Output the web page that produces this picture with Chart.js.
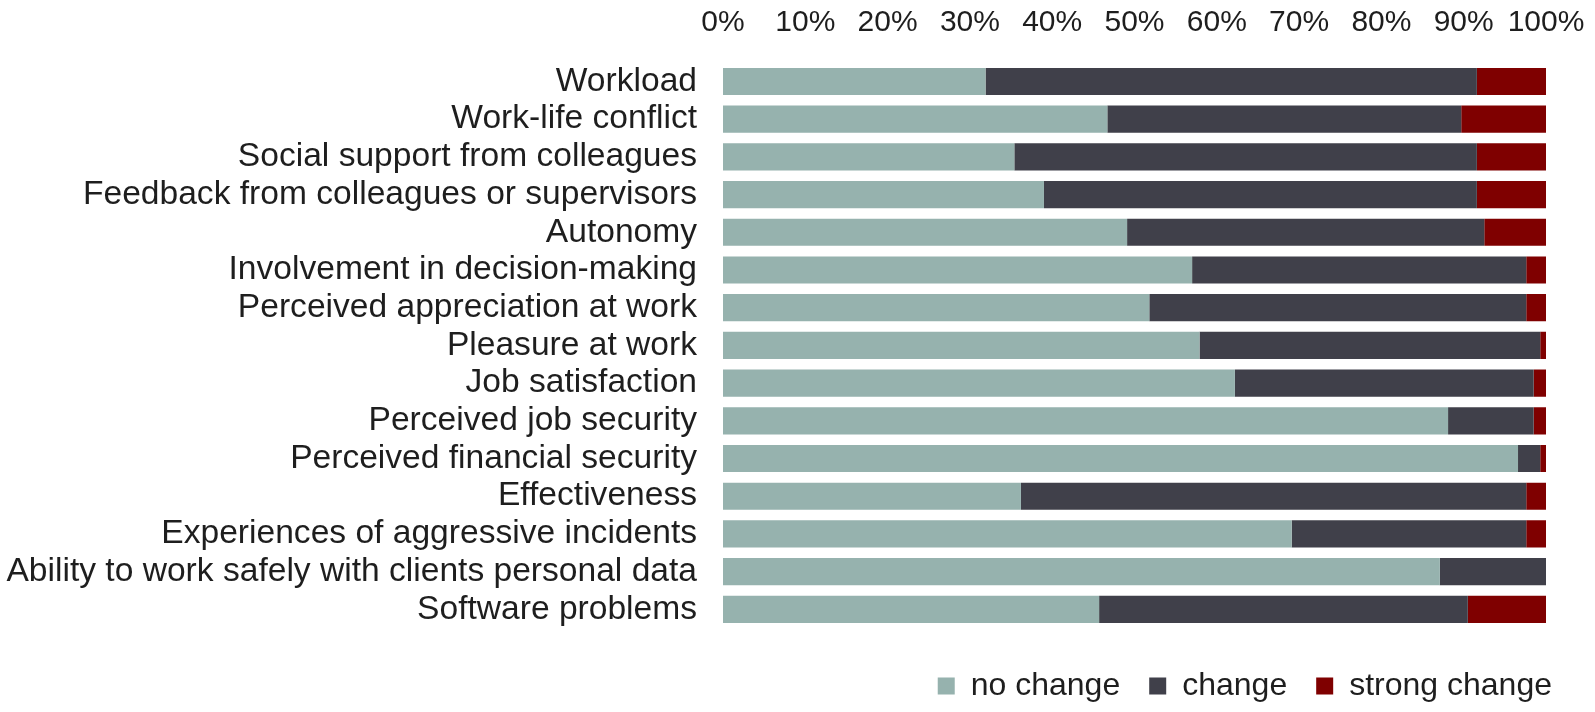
<!DOCTYPE html>
<html>
<head>
<meta charset="utf-8">
<script src="https://cdn.jsdelivr.net/npm/chart.js@4.4.1/dist/chart.umd.min.js"></script>
<style>
  html, body { margin: 0; padding: 0; background: #fff; }
  #wrap { width: 1595px; height: 712px; }
</style>
</head>
<body>
<div id="wrap"><canvas id="chart" width="1595" height="712"></canvas></div>
<script>
const categories = [
  'Workload',
  'Work-life conflict',
  'Social support from colleagues',
  'Feedback from colleagues or supervisors',
  'Autonomy',
  'Involvement in decision-making',
  'Perceived appreciation at work',
  'Pleasure at work',
  'Job satisfaction',
  'Perceived job security',
  'Perceived financial security',
  'Effectiveness',
  'Experiences of aggressive incidents',
  'Ability to work safely with clients personal data',
  'Software problems'
];
// percentages
const noChange = [31.9, 46.7, 35.4, 39.0, 49.1, 57.0, 51.8, 57.9, 62.2, 88.1, 96.6, 36.2, 69.1, 87.1, 45.7];
const change = [59.7, 43.0, 56.2, 52.6, 43.4, 40.6, 45.8, 41.4, 36.3, 10.4, 2.7, 61.4, 28.5, 12.9, 44.8];
const strongChange = [8.4, 10.3, 8.4, 8.4, 7.5, 2.4, 2.4, 0.7, 1.5, 1.5, 0.7, 2.4, 2.4, 0, 9.5];
const xTicks = [0, 10, 20, 30, 40, 50, 60, 70, 80, 90, 100];

const font = 'Liberation Sans, Arial, sans-serif';
const textColor = '#1e1e1e';

const makeSet = (label, data, color) => ({
  label,
  data,
  backgroundColor: color,
  borderWidth: 0,
  barPercentage: 0.72,
  categoryPercentage: 1
});

new Chart(document.getElementById('chart'), {
  type: 'bar',
  data: {
    labels: categories,
    datasets: [
      makeSet('no change', noChange, '#96b2ae'),
      makeSet('change', change, '#40404a'),
      makeSet('strong change', strongChange, '#7f0000')
    ]
  },
  options: {
    indexAxis: 'y',
    responsive: false,
    animation: false,
    layout: { padding: { left: 0, right: 14, top: 0, bottom: 0 } },
    scales: {
      x: {
        position: 'top',
        stacked: true,
        min: 0,
        max: 100,
        afterBuildTicks: (axis) => { axis.ticks = xTicks.map(v => ({ value: v })); },
        // fixed axis size so the plot sits where the original one does
        afterFit: (axis) => {
          axis.height = 62.6;
          axis.paddingLeft = 0;
          axis.paddingRight = 49;
        },
        ticks: {
          callback: (v) => v + '%',
          color: textColor,
          font: { family: font, size: 30 },
          padding: 22,
          maxRotation: 0,
          autoSkip: false
        },
        grid: { display: false, drawTicks: false },
        border: { display: false }
      },
      y: {
        stacked: true,
        afterFit: (axis) => {
          axis.width = 723;
          axis.paddingTop = 0;
          axis.paddingBottom = 0;
        },
        ticks: {
          color: textColor,
          font: { family: font, size: 33.6 },
          padding: 26,
          autoSkip: false
        },
        grid: { display: false, drawTicks: false },
        border: { display: false }
      }
    },
    plugins: {
      tooltip: { enabled: false },
      legend: {
        position: 'bottom',
        align: 'end',
        maxHeight: 83.8,
        title: {
          display: true,
          text: '',
          font: { size: 1, lineHeight: 1 },
          padding: { top: 11.8, bottom: 0 }
        },
        labels: {
          color: textColor,
          font: { family: font, size: 32 },
          boxWidth: 17,
          boxHeight: 17,
          padding: 29
        }
      }
    }
  }
});
</script>
</body>
</html>
